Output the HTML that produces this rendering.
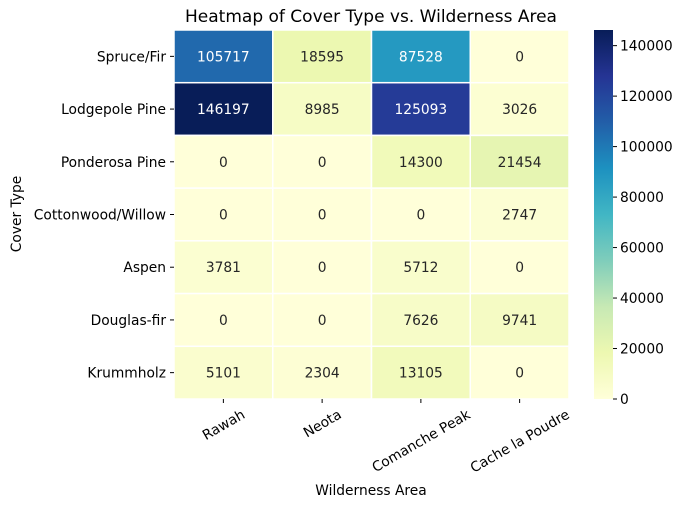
<!DOCTYPE html>
<html><head><meta charset="utf-8"><style>
body{margin:0;background:#fff;}
svg text{font-family:"DejaVu Sans","Liberation Sans",sans-serif;}
</style></head><body>
<svg id="chart" width="685" height="507" viewBox="0 0 685 507" xmlns="http://www.w3.org/2000/svg">
<defs><linearGradient id="cg" x1="0" y1="1" x2="0" y2="0">
<stop offset="0" stop-color="#ffffd9"/><stop offset="0.125" stop-color="#edf8b1"/><stop offset="0.25" stop-color="#c7e9b4"/><stop offset="0.375" stop-color="#7fcdbb"/><stop offset="0.5" stop-color="#41b6c4"/><stop offset="0.625" stop-color="#1d91c0"/><stop offset="0.75" stop-color="#225ea8"/><stop offset="0.875" stop-color="#253494"/><stop offset="1" stop-color="#081d58"/>
</linearGradient></defs>
<text x="371" y="22" font-size="17" text-anchor="middle">Heatmap of Cover Type vs. Wilderness Area</text>
<text x="371" y="495" font-size="13.8" text-anchor="middle">Wilderness Area</text>
<text transform="translate(21,214) rotate(-90)" font-size="13.8" text-anchor="middle">Cover Type</text>
<g id="cells"></g>
<rect x="594" y="30" width="19" height="369" fill="url(#cg)"/>
<g id="cbticks"></g>
</svg>
<script>
const areas=["Rawah","Neota","Comanche Peak","Cache la Poudre"];
const covers=["Spruce/Fir","Lodgepole Pine","Ponderosa Pine","Cottonwood/Willow","Aspen","Douglas-fir","Krummholz"];
const rawah=[105717,146197,0,0,3781,0,5101];
const neota=[18595,8985,0,0,0,0,2304];
const comanche=[87528,125093,14300,0,5712,7626,13105];
const cache=[0,3026,21454,2747,0,9741,0];
const cbTicks=[0,20000,40000,60000,80000,100000,120000,140000];
const series=[rawah,neota,comanche,cache];
const NS="http://www.w3.org/2000/svg";
const X0=174,X1=569,Y0=30,Y1=399;
const FS=13.8;
const vmax=Math.max(...series.flat());
const cw=(X1-X0)/areas.length,rh=(Y1-Y0)/covers.length;
const xs=i=>X0+i*cw, ys=j=>Y0+j*rh;
const cy=v=>Y1-(v/vmax)*(Y1-Y0);
const stops=["#ffffd9","#edf8b1","#c7e9b4","#7fcdbb","#41b6c4","#1d91c0","#225ea8","#253494","#081d58"].map(h=>[1,3,5].map(k=>parseInt(h.substr(k,2),16)));
function col(v){let t=v/vmax*8;let i=Math.min(7,Math.floor(t));let f=t-i;const a=stops[i],b=stops[i+1];return a.map((c,k)=>Math.round(c+(b[k]-c)*f));}
function lum(c){const l=c.map(x=>{x/=255;return x<=0.03928?x/12.92:Math.pow((x+0.055)/1.055,2.4);});return 0.2126*l[0]+0.7152*l[1]+0.0722*l[2];}
function mk(t,a,p){const e=document.createElementNS(NS,t);for(const k in a)e.setAttribute(k,a[k]);p.appendChild(e);return e;}
const g=document.getElementById('cells'),svg=document.getElementById('chart'),cb=document.getElementById('cbticks');
series.forEach((s,i)=>s.forEach((v,j)=>{
 const c=col(v);
 const r=mk('rect',{x:xs(i),y:ys(j),width:cw,height:rh,fill:`rgb(${c})`,stroke:'#fff','stroke-width':1.5},g);
 
 
 const t=mk('text',{x:xs(i)+cw/2,y:ys(j)+rh/2+5,'font-size':FS,'text-anchor':'middle',fill:lum(c)<0.408?'#fff':'#262626'},g);
 t.textContent=v;
 
 
}));
covers.forEach((c,j)=>{
 const y=ys(j)+rh/2;
 mk('line',{x1:X0-4,x2:X0,y1:y,y2:y,stroke:'#000'},svg);
 const t=mk('text',{x:X0-8,y:y+5,'font-size':FS,'text-anchor':'end'},svg);
 t.textContent=c;
 
 
});
areas.forEach((a,i)=>{
 const x=xs(i)+cw/2;
 mk('line',{x1:x,x2:x,y1:Y1,y2:Y1+4,stroke:'#000'},svg);
 const t=mk('text',{'font-size':FS,'text-anchor':'middle',y:5},svg);
 t.textContent=a;
 const w=t.getComputedTextLength(), h=FS*1.15;
 const bh=w*0.5+h*0.866;
 t.setAttribute('transform',`translate(${x},${Y1+7+bh/2}) rotate(-30)`);
 
 
});
cbTicks.forEach(v=>{
 const y=cy(v);
 mk('line',{x1:613,x2:617,y1:y,y2:y,stroke:'#000'},cb);
 const t=mk('text',{x:620,y:y+5,'font-size':FS},cb);
 t.textContent=v;
 
 
});
</script>
</body></html>
